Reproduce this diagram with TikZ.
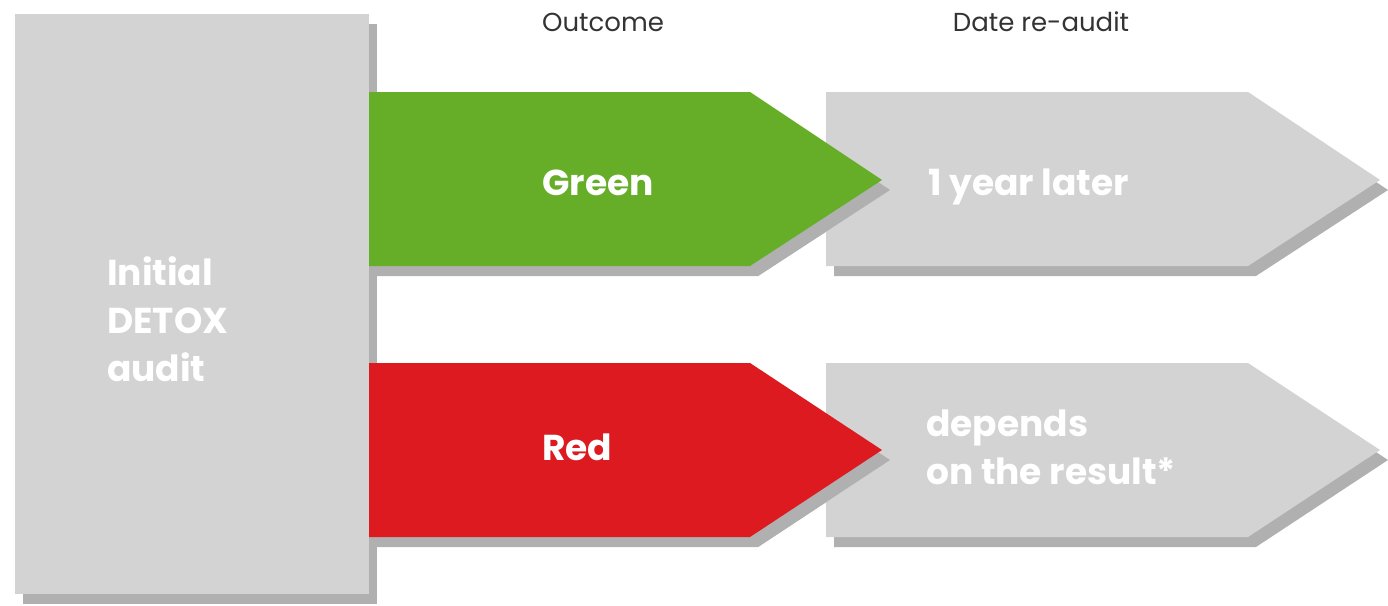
\documentclass[tikz,border=0pt]{standalone}
\usepackage{fontspec}
\setmainfont{Poppins}
\definecolor{boxgray}{HTML}{D3D3D3}
\definecolor{shadowgray}{HTML}{B0B0B0}
\definecolor{okgreen}{HTML}{66AE27}
\definecolor{badred}{HTML}{DC1A20}
\definecolor{headtext}{HTML}{333333}
\tikzset{
  label/.style={text=white, font=\bfseries\fontsize{36}{48}\selectfont, anchor=base west, inner sep=0pt, align=left},
  head/.style={text=headtext, font=\fontsize{26}{30}\selectfont, anchor=base, inner sep=0pt}
}
\begin{document}
\begin{tikzpicture}[x=1pt,y=-1pt]
\useasboundingbox (0,0) rectangle (1388,605);
% shadows
\begin{scope}[shift={(8,10)}]
  \fill[shadowgray] (826,92) -- (1248,92) -- (1380,180) -- (1248,266) -- (826,266) -- cycle;
  \fill[shadowgray] (826,363) -- (1248,363) -- (1380,450) -- (1248,537) -- (826,537) -- cycle;
  \fill[shadowgray] (369,92) -- (750,92) -- (882,180) -- (750,266) -- (369,266) -- cycle;
  \fill[shadowgray] (369,363) -- (750,363) -- (882,450) -- (750,537) -- (369,537) -- cycle;
  \fill[shadowgray] (15,14) rectangle (369,594);
\end{scope}
% gray result arrows
\fill[boxgray] (826,92) -- (1248,92) -- (1380,180) -- (1248,266) -- (826,266) -- cycle;
\fill[boxgray] (826,363) -- (1248,363) -- (1380,450) -- (1248,537) -- (826,537) -- cycle;
% shadows of coloured arrows over the gray ones
\begin{scope}[shift={(8,10)}]
  \fill[shadowgray] (750,92) -- (882,180) -- (750,266) -- cycle;
  \fill[shadowgray] (750,363) -- (882,450) -- (750,537) -- cycle;
\end{scope}
% outcome arrows
\fill[okgreen] (360,92) -- (750,92) -- (882,180) -- (750,266) -- (360,266) -- cycle;
\fill[badred] (360,363) -- (750,363) -- (882,450) -- (750,537) -- (360,537) -- cycle;
% main box
\fill[boxgray] (15,14) rectangle (369,594);
% texts
\node[head] (hout) at (603,31) {Outcome};
\node[head] (hdate) at (1041,31) {Date re-audit};
\node[label] (init) at (107,381) {Initial\\DETOX\\audit};
\node[label] (green) at (542,195) {Green};
\node[label] (red) at (542,460) {Red};
\node[label] (year) at (928,195) {1 year later};
\node[label] (dep) at (926,484) {depends\\on the result*};
\end{tikzpicture}
\end{document}
